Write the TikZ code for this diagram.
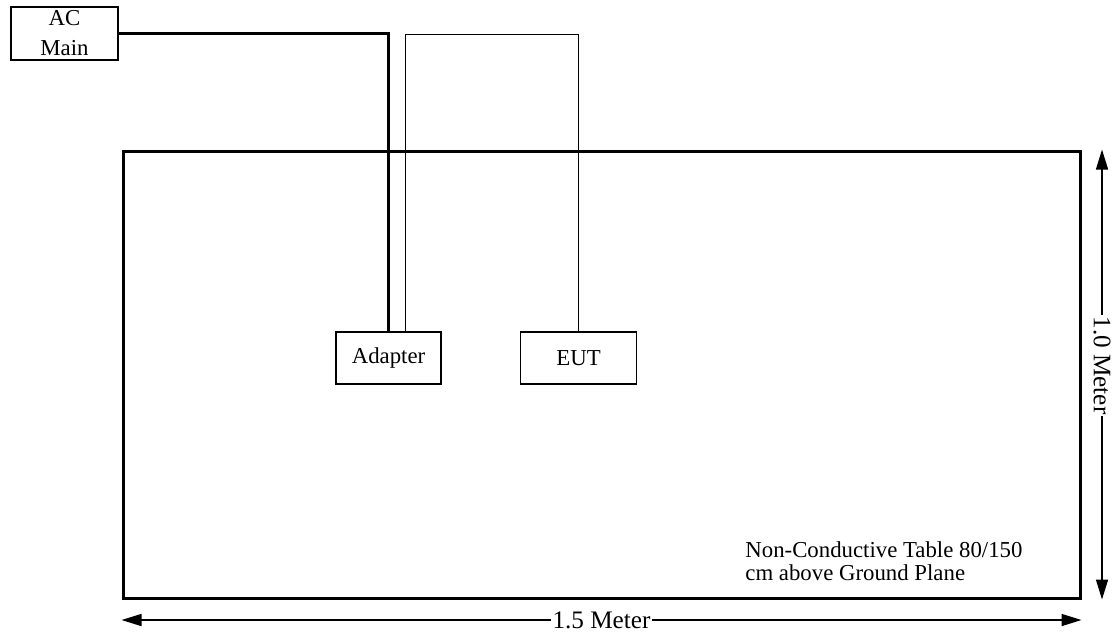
\documentclass[tikz,border=0pt]{standalone}
\usepackage{fontspec}
\setmainfont{Liberation Serif}
\usetikzlibrary{arrows.meta,positioning,fit}

\begin{document}
\begin{tikzpicture}[x=0.5pt,y=-0.5pt,node distance=39pt,font=\fontsize{11.4}{13}\selectfont]
    \tikzset{
      unitbox/.style={rectangle,draw=black,thick,inner sep=0pt,minimum height=26pt,text centered},
      cable/.style={line width=1.5pt},
      wire/.style={line width=0.5pt},
      dim/.style={<->,>={Triangle[length=10pt,width=6pt]},line width=0.75pt},
      dimlabel/.style={fill=white,inner sep=0.8pt,font=\fontsize{12.6}{14}\selectfont}
    }
    \useasboundingbox (0,0) rectangle (1112,634);

    \coordinate (tl) at (123,151);
    \coordinate (br) at (1080,598);
    \node[fit=(tl)(br),draw,line width=1.5pt,inner sep=0pt](table){};

    \node[unitbox,minimum width=53.5pt,minimum height=26.5pt,align=center,font=\fontsize{11.4}{15}\selectfont](acmain) at (64.5,33.5){AC\\Main};
    \node[unitbox,minimum width=52.5pt](adapter) at (388.5,358){Adapter};
    \node[unitbox,minimum width=58pt,right=of adapter](eut){EUT};
    \node[anchor=north west,align=left,inner sep=0pt,font=\fontsize{11.4}{11.5}\selectfont](note) at (745,541){Non-Conductive Table 80/150\\cm above Ground Plane};

    \coordinate (bend) at (405,34);
    \coordinate (vdim) at (1102,0);
    \coordinate (hdim) at (0,620);

    \draw[cable](acmain.east) -| (adapter.north);
    \draw[wire](adapter.north -| bend) -- (bend) -| (eut.north);
    \draw[dim](table.north east -| vdim) -- node[dimlabel,rotate=-90,pos=0.48]{1.0 Meter} (table.south east -| vdim);
    \draw[dim](table.south west |- hdim) -- node[dimlabel]{1.5 Meter} (table.south east |- hdim);

\end{tikzpicture}
\end{document}
